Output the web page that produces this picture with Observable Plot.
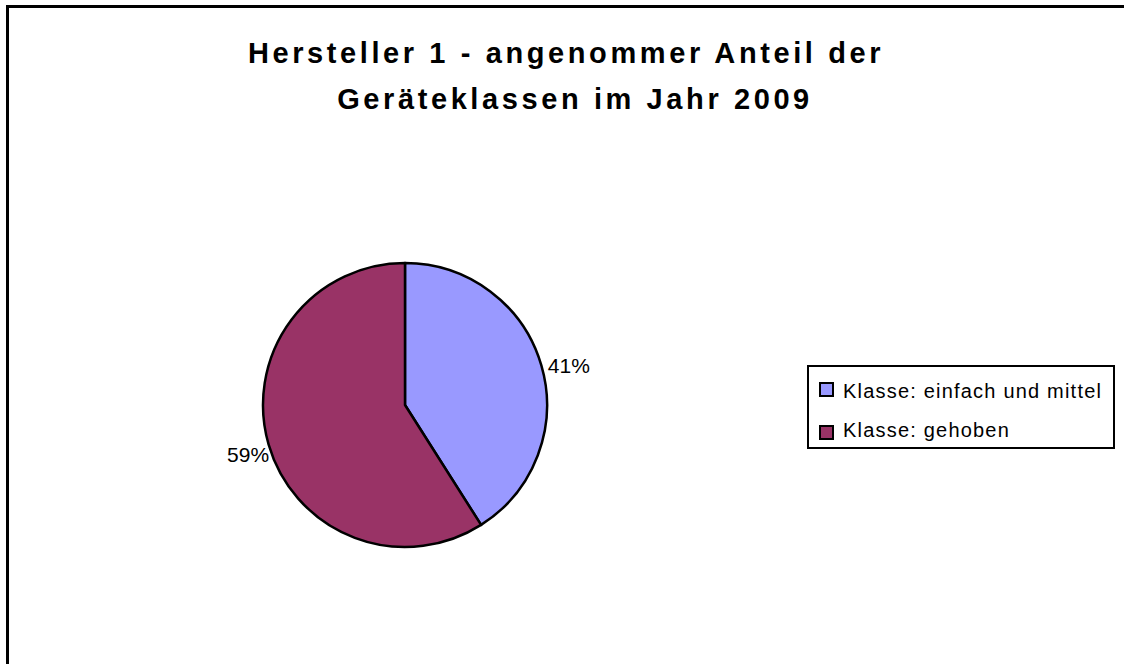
<!DOCTYPE html>
<html>
<head>
<meta charset="utf-8">
<script src="https://cdn.jsdelivr.net/npm/d3@7"></script>
<script src="https://cdn.jsdelivr.net/npm/@observablehq/plot@0.6"></script>
<style>
  html, body { margin: 0; padding: 0; background: #fff; font-family: "Liberation Sans", Arial, sans-serif; overflow: hidden; }
  #wrap { position: relative; width: 1124px; height: 664px; overflow: hidden; background: #fff; }
  #frameTop { position: absolute; left: 6px; top: 5px; width: 1118px; height: 3px; background: #000; }
  #frameLeft { position: absolute; left: 6px; top: 5px; width: 3px; height: 659px; background: #000; }
  .title { position: absolute; font-weight: bold; font-size: 29px; line-height: 29px; letter-spacing: 3.6px; white-space: nowrap; transform: translateX(-50%); color: #000; }
  #chart { position: absolute; left: 0; top: 0; width: 1124px; height: 664px; overflow: hidden; }
  #chart svg { display: block; }
  #legend { position: absolute; left: 807px; top: 365px; width: 304px; height: 80px; border: 2px solid #000; background: #fff; }
  .sw { position: absolute; left: 10px; width: 11px; height: 11px; border: 2px solid #000; }
  .lt { position: absolute; left: 34px; font-size: 20px; line-height: 20px; letter-spacing: 1.2px; white-space: nowrap; color: #000; }
</style>
</head>
<body>
<div id="wrap">
  <div id="chart"></div>
  <div id="frameTop"></div>
  <div id="frameLeft"></div>
  <div class="title" id="t1" style="left:566px; top:39px;"></div>
  <div class="title" id="t2" style="left:575px; top:85px;"></div>
  <div id="legend"></div>
</div>
<script>
// ---- data ----
const titleLines = ["Hersteller 1 - angenommer Anteil der", "Geräteklassen im Jahr 2009"];
const categories = ["Klasse: einfach und mittel", "Klasse: gehoben"];
const shares = [41, 59];
const sliceColors = ["#9999FF", "#993366"];

const slices = categories.map((category, i) => ({category, share: shares[i]}));

// pie layout (angles from 12 o'clock, clockwise)
const arcs = d3.pie().sort(null).value(d => d.share).startAngle(0)(slices);
const labelData = arcs.map(a => {
  const mid = (a.startAngle + a.endAngle) / 2;
  return {category: a.data.category, text: a.data.share + "%", sx: Math.sin(mid), cy: Math.cos(mid)};
});

function pieMark(index, scales) {
  const color = scales.color ?? d3.scaleOrdinal(categories, sliceColors);
  const cx = scales.x(0), cy = scales.y(0);
  const r = Math.abs(scales.x(1) - scales.x(0));
  const arc = d3.arc().innerRadius(0).outerRadius(r);
  const g = d3.create("svg:g").attr("transform", `translate(${cx},${cy})`);
  g.selectAll("path")
    .data(arcs)
    .join("path")
    .attr("d", arc)
    .attr("fill", d => color(d.data.category))
    .attr("stroke", "#000")
    .attr("stroke-width", 2.5)
    .attr("stroke-linejoin", "round");
  return g.node();
}

const plot = Plot.plot({
  width: 1124,
  height: 664,
  marginLeft: 263,
  marginRight: 577,
  marginTop: 263,
  marginBottom: 117,
  x: {domain: [-1, 1], axis: null},
  y: {domain: [-1, 1], axis: null},
  color: {domain: categories, range: sliceColors},
  style: {background: "transparent", fontFamily: "Liberation Sans, Arial, sans-serif"},
  marks: [
    Plot.dot(slices, {x: () => 0, y: () => 0, fill: "category", r: 0}),
    pieMark,
    Plot.text(labelData.filter(d => d.sx >= 0), {
      x: "sx", y: "cy", text: "text", textAnchor: "start", lineAnchor: "middle",
      dx: 6, dy: 0, fontSize: 21, fill: "#000"
    }),
    Plot.text(labelData.filter(d => d.sx < 0), {
      x: "sx", y: "cy", text: "text", textAnchor: "end", lineAnchor: "middle",
      dx: 0, dy: 10, fontSize: 21, fill: "#000"
    })
  ]
});
document.getElementById("chart").appendChild(plot);

document.getElementById("t1").textContent = titleLines[0];
document.getElementById("t2").textContent = titleLines[1];

// legend from the plot's color scale
const colorScale = plot.scale("color");
const legend = document.getElementById("legend");
const rowTops = [15, 58];
const textTops = [14, 53];
colorScale.domain.forEach((cat, i) => {
  const sw = document.createElement("div");
  sw.className = "sw";
  sw.style.top = rowTops[i] + "px";
  sw.style.background = colorScale.range[i];
  legend.appendChild(sw);
  const t = document.createElement("div");
  t.className = "lt";
  t.style.top = textTops[i] + "px";
  t.textContent = cat;
  legend.appendChild(t);
});
</script>
</body>
</html>
